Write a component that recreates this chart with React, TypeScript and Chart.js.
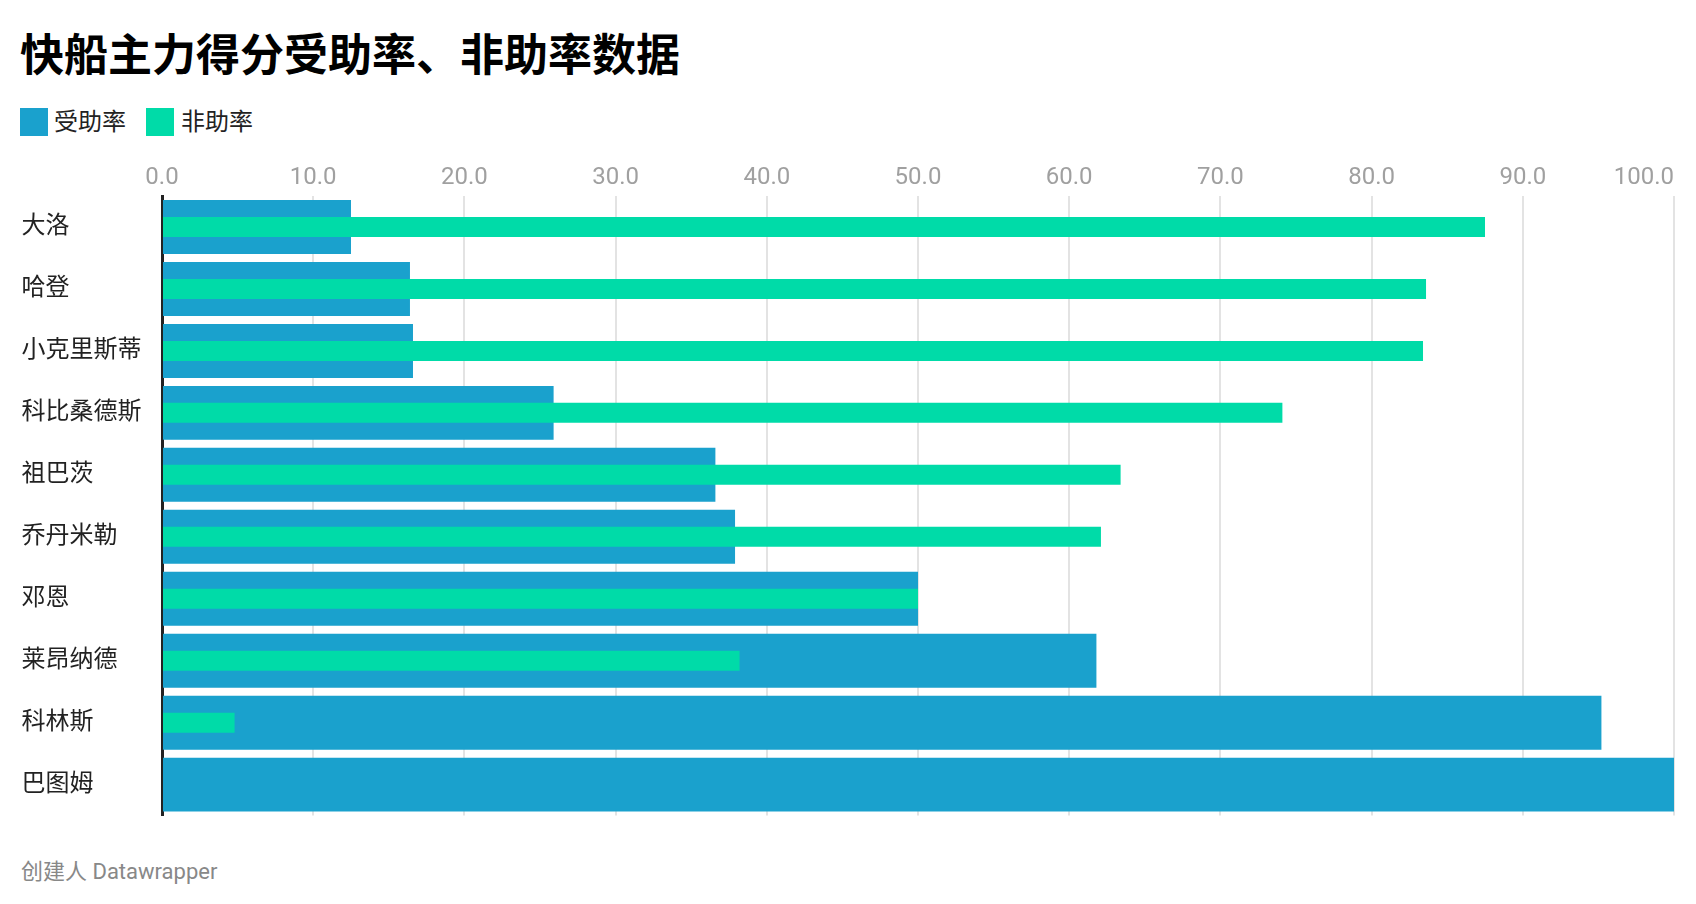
import React, { useEffect, useRef } from "react";
import { Chart, registerables } from "chart.js";

Chart.register(...registerables);

const categories = ["大洛", "哈登", "小克里斯蒂", "科比桑德斯", "祖巴茨", "乔丹米勒", "邓恩", "莱昂纳德", "科林斯", "巴图姆"];
const assistedRate = [12.5, 16.4, 16.6, 25.9, 36.6, 37.9, 50.0, 61.8, 95.2, 100.0];
const unassistedRate = [87.5, 83.6, 83.4, 74.1, 63.4, 62.1, 50.0, 38.2, 4.8, 0];
const xTickValues = [0, 10, 20, 30, 40, 50, 60, 70, 80, 90, 100];
const seriesNames = ["受助率", "非助率"];
const seriesColors = ["#1aa1cd", "#00dba8"];

const FONT = 'Roboto, "Noto Sans CJK SC", sans-serif';

const xTickLabelPlugin = {
  id: "xTickLabels",
  afterDraw(chart: any) {
    const { ctx } = chart;
    const x = chart.scales.x;
    ctx.save();
    ctx.font = `24px ${FONT}`;
    ctx.fillStyle = "#a0a0a0";
    ctx.textBaseline = "alphabetic";
    xTickValues.forEach((v, i) => {
      const px = x.getPixelForValue(v);
      ctx.textAlign = i === xTickValues.length - 1 ? "right" : "center";
      ctx.fillText(v.toFixed(1), px, 34);
    });
    ctx.restore();
  },
};

export default function App() {
  const canvasRef = useRef<HTMLCanvasElement | null>(null);

  useEffect(() => {
    if (!canvasRef.current) return;
    const chart = new Chart(canvasRef.current, {
      type: "bar",
      data: {
        labels: categories,
        datasets: [
          {
            label: seriesNames[0],
            data: assistedRate,
            backgroundColor: seriesColors[0],
            borderWidth: 0,
            barPercentage: 54 / 62,
            categoryPercentage: 1,
            grouped: false,
            order: 2,
          } as any,
          {
            label: seriesNames[1],
            data: unassistedRate,
            backgroundColor: seriesColors[1],
            borderWidth: 0,
            barPercentage: 20 / 62,
            categoryPercentage: 1,
            grouped: false,
            order: 1,
          } as any,
        ],
      },
      options: {
        indexAxis: "y",
        animation: false,
        responsive: true,
        maintainAspectRatio: false,
        layout: { padding: { left: 13.6, right: 14, top: 46, bottom: 14 } },
        plugins: {
          legend: { display: false },
          tooltip: { enabled: false },
          title: { display: false },
        },
        scales: {
          x: {
            type: "linear",
            position: "top",
            min: 0,
            max: 100,
            ticks: { display: false, stepSize: 10 },
            grid: {
              drawTicks: false,
              lineWidth: 2,
              color: (c: any) => (c.tick && c.tick.value === 0 ? "rgba(0,0,0,0)" : "#e3e3e3"),
            },
            border: { display: false },
          },
          y: {
            type: "category",
            grid: { display: false, drawTicks: false },
            border: { display: true, color: "#222222", width: 3 },
            ticks: {
              autoSkip: false,
              crossAlign: "far",
              padding: 0,
              color: "#222222",
              font: { family: FONT, size: 24 },
            },
            afterFit: (s: any) => {
              s.width = 140.4;
            },
          },
        },
      },
      plugins: [xTickLabelPlugin],
    });
    return () => chart.destroy();
  }, []);

  const legendText: React.CSSProperties = {
    position: "absolute",
    fontSize: 24,
    lineHeight: "24px",
    color: "#222",
    fontFamily: FONT,
    whiteSpace: "nowrap",
  };

  return (
    <div style={{ position: "relative", width: 1680, height: 880, fontFamily: FONT }}>
      <div
        style={{
          position: "absolute",
          left: 12,
          top: 26.4,
          fontSize: 44,
          lineHeight: "44px",
          fontWeight: 700,
          color: "#000",
          whiteSpace: "nowrap",
        }}
      >
        快船主力得分受助率、非助率数据
      </div>

      <div style={{ position: "absolute", left: 12, top: 100, width: 28, height: 28, background: seriesColors[0] }} />
      <div style={{ ...legendText, left: 46, top: 102.4 }}>{seriesNames[0]}</div>
      <div style={{ position: "absolute", left: 138, top: 100, width: 28, height: 28, background: seriesColors[1] }} />
      <div style={{ ...legendText, left: 173, top: 102.4 }}>{seriesNames[1]}</div>

      <div style={{ position: "absolute", left: 0, top: 142, width: 1680, height: 680 }}>
        <canvas ref={canvasRef} />
      </div>

      <div
        style={{
          position: "absolute",
          left: 13,
          top: 852.6,
          fontSize: 22,
          lineHeight: "22px",
          color: "#888",
          whiteSpace: "nowrap",
        }}
      >
        创建人 Datawrapper
      </div>
    </div>
  );
}
